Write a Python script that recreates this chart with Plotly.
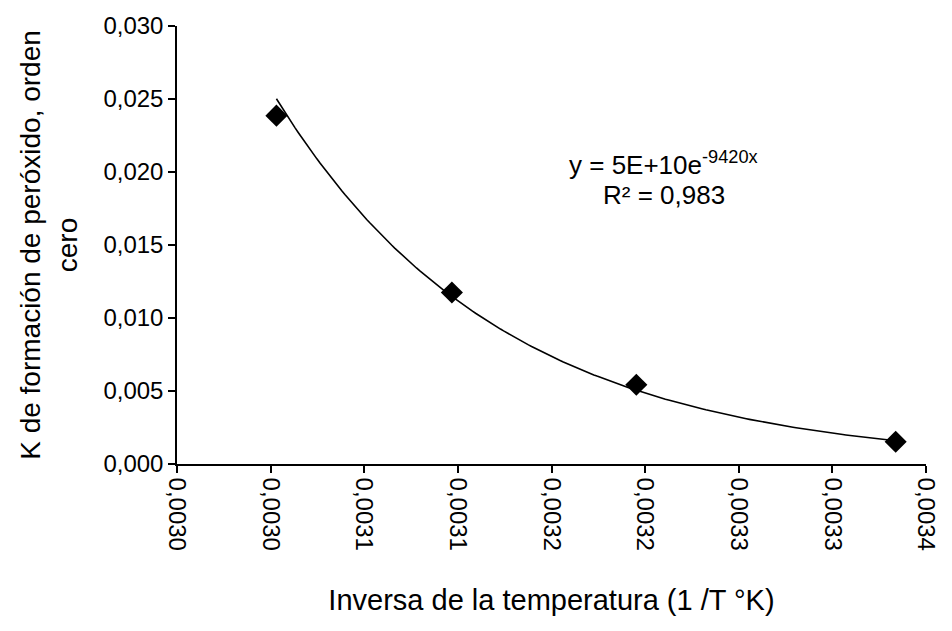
import numpy as np
import plotly.graph_objects as go

# Data
inv_temp = [0.0030031, 0.0030968, 0.0031953, 0.0033338]
k_rate = [0.02386, 0.01175, 0.00543, 0.00152]

x_tickvals = [0.00295, 0.00300, 0.00305, 0.00310, 0.00315, 0.00320, 0.00325, 0.00330, 0.00335]
x_ticktext = ["0,0030", "0,0030", "0,0031", "0,0031", "0,0032", "0,0032", "0,0033", "0,0033", "0,0034"]
y_tickvals = [0.000, 0.005, 0.010, 0.015, 0.020, 0.025, 0.030]
y_ticktext = ["0,000", "0,005", "0,010", "0,015", "0,020", "0,025", "0,030"]

# Exponential trendline fitted to the data (as the spreadsheet does)
slope, intercept = np.polyfit(np.array(inv_temp), np.log(np.array(k_rate)), 1)
xs = np.linspace(min(inv_temp), max(inv_temp), 200)
ys = np.exp(intercept + slope * xs)

FONT = "Liberation Sans, Arial, sans-serif"

fig = go.Figure()
fig.add_trace(go.Scatter(x=xs, y=ys, mode="lines",
                         line=dict(color="black", width=1.6),
                         showlegend=False, hoverinfo="skip"))
fig.add_trace(go.Scatter(x=inv_temp, y=k_rate, mode="markers",
                         marker=dict(symbol="diamond", size=17, color="black"),
                         showlegend=False))

fig.add_annotation(x=0.003210, y=0.0206, xref="x", yref="y",
                   text="y = 5E+10e<sup>-9420x</sup>", showarrow=False,
                   font=dict(family=FONT, size=26, color="black"))
fig.add_annotation(x=0.003210, y=0.0184, xref="x", yref="y",
                   text="R² = 0,983", showarrow=False,
                   font=dict(family=FONT, size=26, color="black"))

fig.update_layout(
    width=952, height=631,
    margin=dict(l=177, r=17, t=24, b=167),
    paper_bgcolor="white", plot_bgcolor="white",
    font=dict(family=FONT, color="black"),
    xaxis=dict(range=[0.00295, 0.00335], tickvals=x_tickvals, ticktext=x_ticktext,
               tickangle=90, ticks="outside", ticklen=7, tickwidth=1.5, tickcolor="black",
               showline=True, linecolor="black", linewidth=1.5, showgrid=False, zeroline=False,
               tickfont=dict(size=24),
               title=dict(text="Inversa de la temperatura (1 /T °K)", font=dict(size=29), standoff=40)),
    yaxis=dict(range=[0, 0.030], tickvals=y_tickvals, ticktext=y_ticktext,
               ticks="outside", ticklen=7, tickwidth=1.5, tickcolor="black",
               showline=True, linecolor="black", linewidth=1.5, showgrid=False, zeroline=False,
               tickfont=dict(size=24),
               title=dict(text="K de formación de peróxido, orden<br>cero", font=dict(size=28), standoff=18)),
)

fig.write_html("out.html")
